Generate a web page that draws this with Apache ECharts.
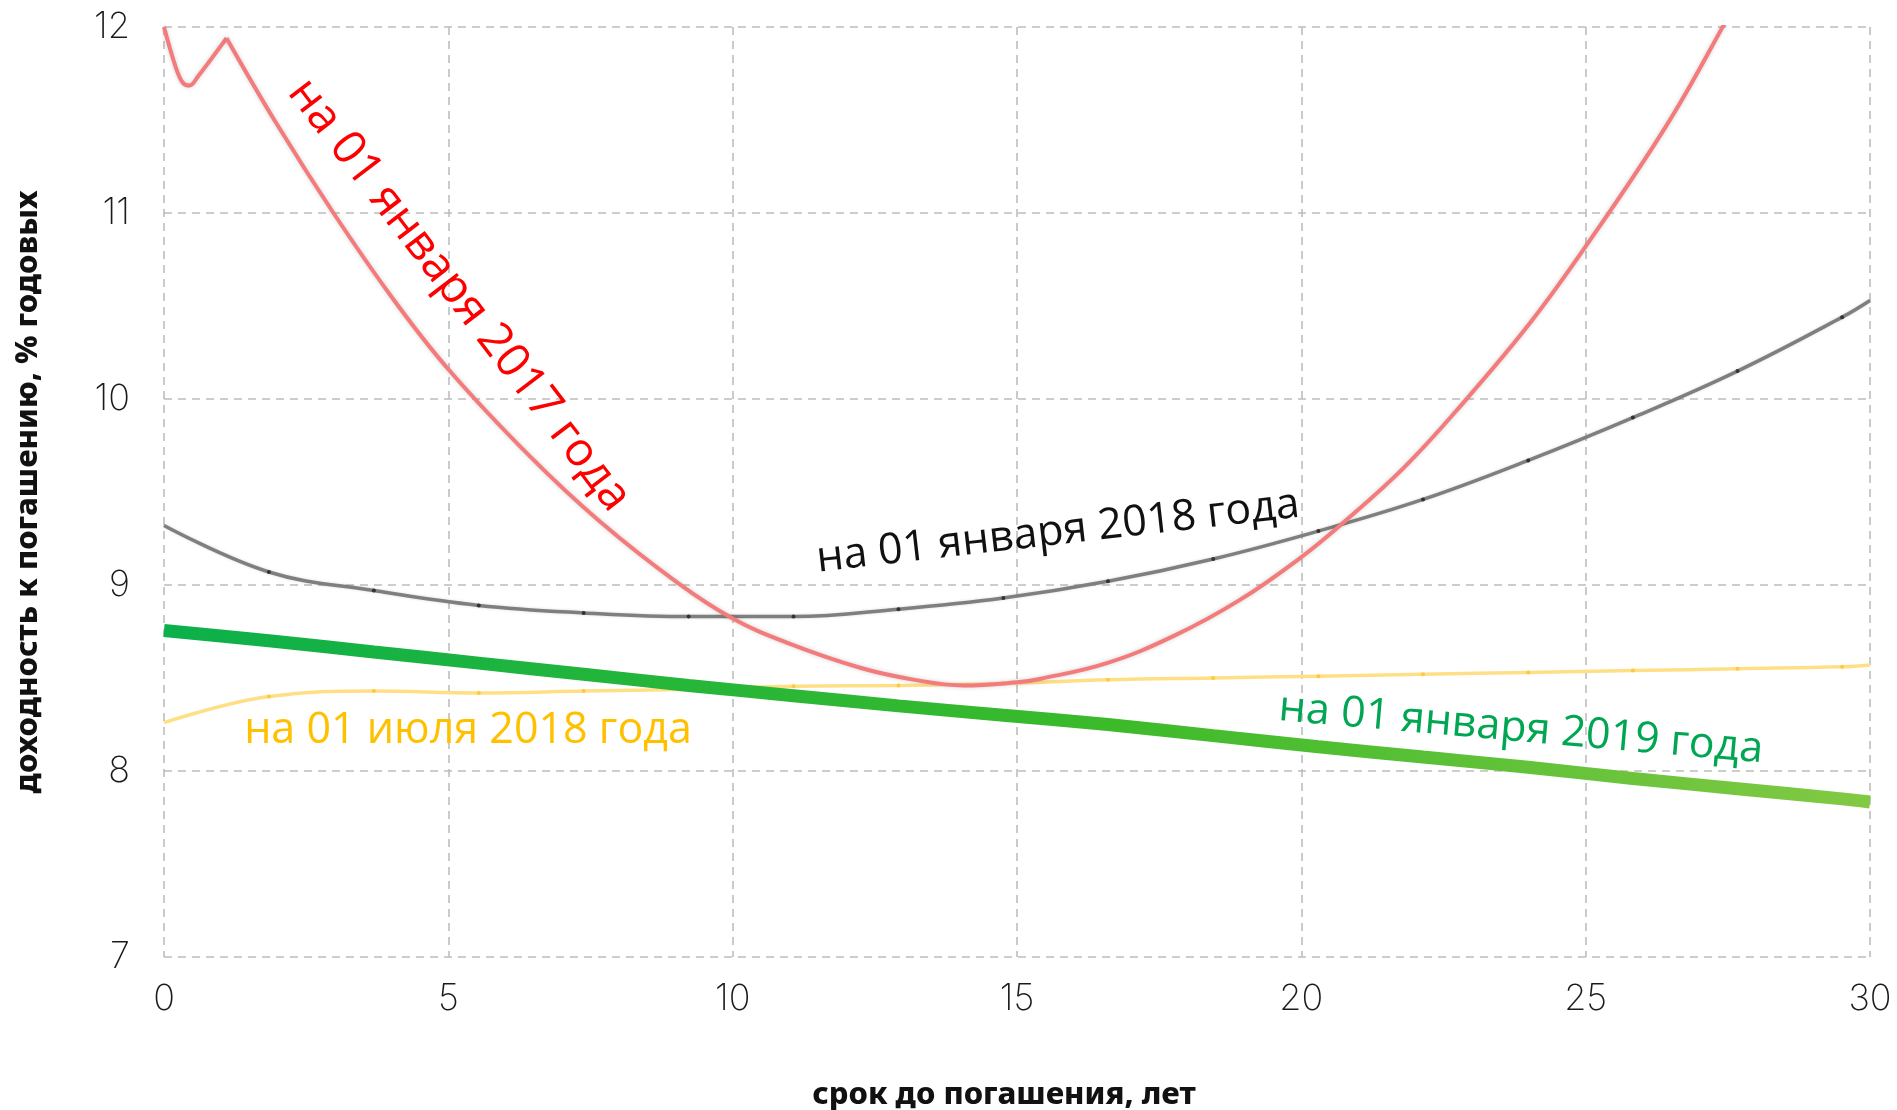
<!DOCTYPE html>
<html>
<head>
<meta charset="utf-8">
<script src="https://cdn.jsdelivr.net/npm/echarts@6/dist/echarts.min.js"></script>
<style>
  html, body { margin: 0; padding: 0; background: #ffffff; }
  #chart { width: 1897px; height: 1110px; }
</style>
</head>
<body>
<div id="chart"></div>
<script>
// ---- data ----
const maturity = [0, 1.845, 3.69, 5.535, 7.38, 9.225, 11.07, 12.915, 14.76, 16.6, 18.45, 20.3, 22.14, 23.99, 25.83, 27.67, 29.51, 30];
const yieldJan2018 = [9.32, 9.07, 8.97, 8.89, 8.85, 8.83, 8.83, 8.87, 8.93, 9.02, 9.14, 9.29, 9.46, 9.67, 9.90, 10.15, 10.44, 10.53];
const yieldJul2018 = [8.26, 8.40, 8.43, 8.42, 8.43, 8.44, 8.455, 8.46, 8.47, 8.49, 8.50, 8.51, 8.52, 8.53, 8.54, 8.55, 8.56, 8.57];
const yieldJan2019 = [8.755, 8.70, 8.64, 8.58, 8.52, 8.46, 8.405, 8.35, 8.30, 8.25, 8.19, 8.13, 8.075, 8.02, 7.96, 7.905, 7.85, 7.833];

// 01.01.2017 curve: short end (up to the kink) and the main part
const maturity2017Short = [0, 0.2, 0.33, 0.45, 0.6, 1.1];
const yield2017Short = [12.0, 11.79, 11.70, 11.685, 11.735, 11.94];
const maturity2017Main = [1.1, 2.0, 2.98, 4.0, 5.0, 6.44, 7.67, 9.04, 10.0, 10.95, 12.24, 13.2, 14.06, 15.0, 15.4, 16.58, 17.75, 18.92, 20.0, 20.68, 21.8, 22.82, 24.0, 25.0, 26.42, 27.39, 28.5, 30];
const yield2017Main = [11.94, 11.47, 11.0, 10.55, 10.16, 9.69, 9.34, 9.01, 8.82, 8.69, 8.555, 8.49, 8.46, 8.477, 8.495, 8.58, 8.725, 8.92, 9.15, 9.32, 9.63, 9.97, 10.40, 10.82, 11.47, 11.99, 12.62, 13.5];

const xTicks = { min: 0, max: 30, interval: 5 };
const yTicks = { min: 7, max: 12, interval: 1 };

const labelTexts = {
  jan2017: 'на 01 января 2017 года',
  jan2018: 'на 01 января 2018 года',
  jul2018: 'на 01 июля 2018 года',
  jan2019: 'на 01 января 2019 года'
};
const xTitle = 'срок до погашения, лет';
const yTitle = 'доходность к погашению, % годовых';

// ---- helpers ----
function pairs(xs, ys, edgeNoSymbol) {
  return xs.map((x, i) => {
    const item = { value: [x, ys[i]] };
    if (edgeNoSymbol && (i === 0 || i === xs.length - 1)) item.symbol = 'none';
    return item;
  });
}

const chart = echarts.init(document.getElementById('chart'), null, { renderer: 'canvas' });

const gridLine = { show: true, lineStyle: { color: '#bdbdbd', width: 1.6, type: [8, 6] } };
const tickFont = { fontFamily: 'Inter', fontWeight: 200, fontSize: 36, color: '#1a1a1a' };
const titleFont = { fontFamily: '"Noto Sans"', fontWeight: 800, fontSize: 31, color: '#111' };
const redLine = { color: '#f47b7b', width: 4, shadowColor: 'rgba(0,0,0,0.18)', shadowBlur: 4 };

const option = {
  animation: false,
  backgroundColor: '#ffffff',
  grid: { left: 164, right: 27, top: 27, bottom: 153, containLabel: false, outerBoundsMode: 'none' },
  xAxis: {
    type: 'value', min: xTicks.min, max: xTicks.max, interval: xTicks.interval,
    axisLine: { show: false }, axisTick: { show: false },
    splitLine: gridLine,
    axisLabel: Object.assign({ margin: 24 }, tickFont),
    name: xTitle, nameLocation: 'middle', nameGap: 123,
    nameTextStyle: Object.assign({ padding: [0, 26, 0, 0] }, titleFont)
  },
  yAxis: {
    type: 'value', min: yTicks.min, max: yTicks.max, interval: yTicks.interval,
    axisLine: { show: false }, axisTick: { show: false },
    splitLine: gridLine,
    axisLabel: Object.assign({ margin: 34 }, tickFont),
    name: yTitle, nameLocation: 'middle', nameGap: 120, nameRotate: 90,
    nameTextStyle: titleFont
  },
  series: [
    {
      name: labelTexts.jan2018, type: 'line', smooth: 0.4,
      data: pairs(maturity, yieldJan2018, true),
      symbol: 'circle', symbolSize: 4, showSymbol: true,
      itemStyle: { color: '#333333' },
      lineStyle: { color: '#7f7f7f', width: 3.5, shadowColor: 'rgba(0,0,0,0.15)', shadowBlur: 3 },
      z: 2
    },
    {
      name: labelTexts.jul2018, type: 'line', smooth: 0.4,
      data: pairs(maturity, yieldJul2018, true),
      symbol: 'circle', symbolSize: 4, showSymbol: true,
      itemStyle: { color: '#fcc93f' },
      lineStyle: { color: '#ffdf86', width: 3.5 },
      z: 3
    },
    {
      name: labelTexts.jan2019, type: 'line', smooth: 0.3,
      data: pairs(maturity, yieldJan2019, false),
      showSymbol: false,
      lineStyle: {
        width: 13,
        color: new echarts.graphic.LinearGradient(0, 0, 1, 0, [
          { offset: 0, color: '#0bb04b' },
          { offset: 0.55, color: '#3bba2a' },
          { offset: 1, color: '#83c944' }
        ])
      },
      z: 4
    },
    {
      name: labelTexts.jan2017, type: 'line', smooth: 0.35,
      data: pairs(maturity2017Short, yield2017Short, false),
      showSymbol: false, clip: true,
      lineStyle: redLine, z: 5
    },
    {
      name: labelTexts.jan2017, type: 'line', smooth: 0.4,
      data: pairs(maturity2017Main, yield2017Main, false),
      showSymbol: false, clip: true,
      lineStyle: redLine, z: 5
    }
  ],
  graphic: [
    {
      type: 'text', x: 459, y: 295, rotation: -52.5 * Math.PI / 180, z: 10,
      style: { text: labelTexts.jan2017, fill: '#ff0000', fontFamily: '"Open Sans"', fontSize: 47,
               align: 'center', verticalAlign: 'middle', textAlign: 'center', textVerticalAlign: 'middle' }
    },
    {
      type: 'text', x: 1058, y: 532, rotation: 6.5 * Math.PI / 180, z: 10,
      style: { text: labelTexts.jan2018, fill: '#111111', fontFamily: '"Open Sans"', fontSize: 43,
               align: 'center', verticalAlign: 'middle', textAlign: 'center', textVerticalAlign: 'middle' }
    },
    {
      type: 'text', x: 468, y: 731, rotation: 0, z: 10,
      style: { text: labelTexts.jul2018, fill: '#ffc000', fontFamily: '"Open Sans"', fontSize: 43,
               align: 'center', verticalAlign: 'middle', textAlign: 'center', textVerticalAlign: 'middle' }
    },
    {
      type: 'text', x: 1521, y: 729, rotation: -5 * Math.PI / 180, z: 10,
      style: { text: labelTexts.jan2019, fill: '#00a651', fontFamily: '"Open Sans"', fontSize: 43,
               align: 'center', verticalAlign: 'middle', textAlign: 'center', textVerticalAlign: 'middle' }
    }
  ]
};

chart.setOption(option);
</script>
</body>
</html>
